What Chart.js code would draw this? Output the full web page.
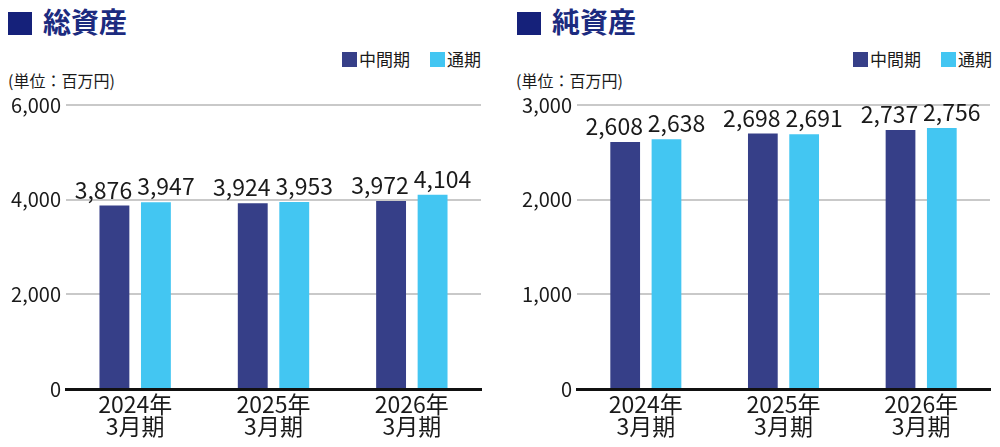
<!DOCTYPE html>
<html>
<head>
<meta charset="utf-8">
<script src="https://cdn.jsdelivr.net/npm/chart.js@4"></script>
<style>
  body { margin: 0; width: 1000px; height: 447px; background: #fff; position: relative; overflow: hidden;
         font-family: "Noto Sans CJK JP", "Noto Sans", sans-serif; color: #1a1a1a; }
  .title { position: absolute; top: 3px; font-size: 28px; font-weight: bold; color: #1c2b7f; line-height: 36px; }
  .title .sq { display: inline-block; width: 24px; height: 23px; background: #15217a; vertical-align: -2px; margin-right: 11px; }
  .unit { position: absolute; top: 69px; font-size: 16px; line-height: 22px; }
  .legend { position: absolute; top: 47px; font-size: 17px; line-height: 24px; display: flex; }
  .legend span.item { display: flex; align-items: center; margin-left: 20px; }
  .legend span.box { display: inline-block; width: 15px; height: 15px; margin-right: 2px; }
  .wrap { position: absolute; top: 90px; height: 357px; }
</style>
</head>
<body>
<div class="title" style="left:8px"><span class="sq"></span>総資産</div>
<div class="legend" id="legend1" style="right:519px"></div>
<div class="unit" style="left:8px">(単位：百万円)</div>
<div class="wrap" style="left:0;width:490px"><canvas id="chart1"></canvas></div>

<div class="title" style="left:517px"><span class="sq"></span>純資産</div>
<div class="legend" id="legend2" style="right:8px"></div>
<div class="unit" style="left:516px">(単位：百万円)</div>
<div class="wrap" style="left:500px;width:500px"><canvas id="chart2"></canvas></div>

<script>
const categories = [['2024年', '3月期'], ['2025年', '3月期'], ['2026年', '3月期']];
const seriesNames = ['中間期', '通期'];
const totalInterim = [3876, 3924, 3972];
const totalFull = [3947, 3953, 4104];
const netInterim = [2608, 2698, 2737];
const netFull = [2638, 2691, 2756];
const totalTicks = { max: 6000, step: 2000 };
const netTicks = { max: 3000, step: 1000 };

const darkColor = '#363f88';
const lightColor = '#43c6f2';
const fontFamily = '"Noto Sans CJK JP", "Noto Sans", sans-serif';

function fmt(v) {
  return v.toLocaleString('en-US');
}

function buildLegend(id) {
  const el = document.getElementById(id);
  [darkColor, lightColor].forEach((c, i) => {
    const item = document.createElement('span');
    item.className = 'item';
    item.innerHTML = '<span class="box" style="background:' + c + '"></span>' + seriesNames[i];
    el.appendChild(item);
  });
}

// value labels above the bars, nudged apart like the original
const valueLabels = {
  id: 'valueLabels',
  afterDatasetsDraw(chart) {
    const ctx = chart.ctx;
    ctx.save();
    ctx.font = '23px ' + fontFamily;
    ctx.fillStyle = '#1a1a1a';
    ctx.textAlign = 'center';
    ctx.textBaseline = 'alphabetic';
    chart.data.datasets.forEach((ds, i) => {
      const shift = i === 0 ? -11 : 10;
      chart.getDatasetMeta(i).data.forEach((bar, j) => {
        ctx.fillText(fmt(ds.data[j]), bar.x + shift, bar.y - 7);
      });
    });
    ctx.restore();
  }
};

function makeChart(id, interim, full, ticks, axisWidth, padRight) {
  const ctx = document.getElementById(id).getContext('2d');
  return new Chart(ctx, {
    type: 'bar',
    data: {
      labels: categories,
      datasets: [
        { label: seriesNames[0], data: interim, backgroundColor: darkColor },
        { label: seriesNames[1], data: full, backgroundColor: lightColor }
      ]
    },
    options: {
      responsive: true,
      maintainAspectRatio: false,
      animation: false,
      categoryPercentage: 0.6,
      barPercentage: 0.72,
      layout: { padding: { top: 15, right: padRight, left: 0, bottom: 0 } },
      plugins: { legend: { display: false }, tooltip: { enabled: false } },
      scales: {
        x: {
          z: 1,
          grid: { display: false, drawTicks: false },
          border: { display: true, color: '#111', width: 3 },
          ticks: { color: '#1a1a1a', padding: 4, font: { family: fontFamily, size: 23, lineHeight: 0.95 } },
          afterFit(scale) { scale.height = 58; }
        },
        y: {
          min: 0,
          max: ticks.max,
          grid: {
            drawTicks: false,
            lineWidth: 2,
            color: c => (c.tick && c.tick.value === 0 ? 'rgba(0,0,0,0)' : '#c9c9c9')
          },
          border: { display: false },
          ticks: {
            stepSize: ticks.step,
            color: '#1a1a1a',
            padding: 5,
            font: { family: fontFamily, size: 20, lineHeight: 1 },
            callback: v => fmt(v)
          },
          afterFit(scale) { scale.width = axisWidth; }
        }
      }
    },
    plugins: [valueLabels]
  });
}

buildLegend('legend1');
buildLegend('legend2');
makeChart('chart1', totalInterim, totalFull, totalTicks, 66, 9);
makeChart('chart2', netInterim, netFull, netTicks, 77, 10);
</script>
</body>
</html>
